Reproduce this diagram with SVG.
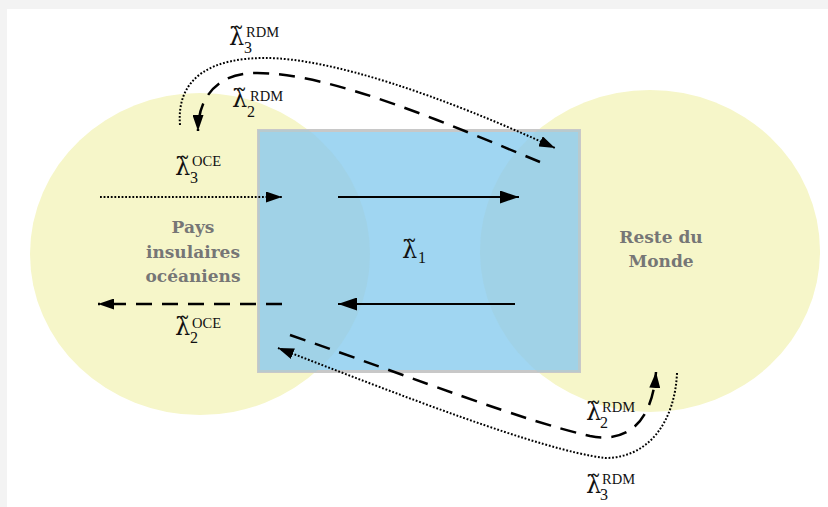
<svg xmlns="http://www.w3.org/2000/svg" width="828" height="507" viewBox="0 0 828 507">
  <style>
    .region{fill:#f6f6c9}
    .tint{fill:#a0cdd7;opacity:0.4}
    .name{font-family:"DejaVu Serif",serif;font-weight:bold;font-size:17px;fill:#767676;text-anchor:middle}
    .lam{font-family:"DejaVu Serif",serif;font-size:24px;fill:#111}
    .sub{font-family:"Liberation Serif","DejaVu Serif",serif;font-size:16px;fill:#111}
    .sup{font-family:"Liberation Serif","DejaVu Serif",serif;font-size:14.5px;fill:#111}
    .solid{fill:none;stroke:#000;stroke-width:2}
    .dot{fill:none;stroke:#000;stroke-width:2;stroke-dasharray:1.8 1.8}
    .dash{fill:none;stroke:#000;stroke-width:2.5;stroke-dasharray:16 10}
  </style>
  <defs>
    <marker id="big" viewBox="0 0 10 10" refX="10" refY="5" markerWidth="19" markerHeight="13" markerUnits="userSpaceOnUse" orient="auto" preserveAspectRatio="none">
      <path d="M0,0 L10,5 L0,10 z" fill="#000"/>
    </marker>
    <marker id="small" viewBox="0 0 10 10" refX="10" refY="5" markerWidth="16" markerHeight="11" markerUnits="userSpaceOnUse" orient="auto" preserveAspectRatio="none">
      <path d="M0,0 L10,5 L0,10 z" fill="#000"/>
    </marker>
    <clipPath id="boxclip"><rect x="258" y="130" width="322" height="242"/></clipPath>
  </defs>

  <rect x="0" y="0" width="828" height="507" fill="#f3f3f3"/>
  <rect x="7" y="9" width="821" height="498" fill="#ffffff"/>

  <g id="pays-insulaires">
    <ellipse class="region" cx="200" cy="254" rx="170" ry="161"/>
  </g>
  <g id="reste-du-monde">
    <ellipse class="region" cx="650" cy="251" rx="170" ry="161"/>
  </g>
  <g id="echanges">
    <rect x="258.5" y="130.5" width="321" height="241" fill="#a0d6f2" stroke="#c8c8c8" stroke-width="3"/>
    <g clip-path="url(#boxclip)">
      <ellipse class="tint" cx="200" cy="254" rx="170" ry="161"/>
      <ellipse class="tint" cx="650" cy="251" rx="170" ry="161"/>
    </g>
  </g>

  <g id="labels-names">
    <text class="name" x="193" y="233">Pays</text>
    <text class="name" x="193" y="258">insulaires</text>
    <text class="name" x="193" y="282">océaniens</text>
    <text class="name" x="661" y="243">Reste du</text>
    <text class="name" x="661" y="267">Monde</text>
  </g>

  <g id="connectors">
    <path class="dot" d="M100,197 L282,197" marker-end="url(#small)"/>
    <path class="solid" d="M338,197 L519,197" marker-end="url(#big)"/>
    <path class="solid" d="M515,304 L338,304" marker-end="url(#big)"/>
    <path class="dash" d="M282,304 L98,304" marker-end="url(#small)"/>
    <path class="dot" d="M180,125 C176,75 215,58 265,58 C330,58 440,95 555,148" marker-end="url(#small)"/>
    <path class="dash" d="M540,162 C450,125 330,72 255,73 C220,73 198,95 198,131" marker-end="url(#small)"/>
    <path class="dash" d="M290,335 C420,380 520,420 590,436 C625,443 652,425 656,372" marker-end="url(#small)"/>
    <path class="dot" d="M677,373 C675,420 650,458 605,458 C540,450 400,395 278,348" marker-end="url(#small)"/>
  </g>

  <g id="math-labels">
    <text x="229" y="45"><tspan class="lam">λ̃</tspan><tspan class="sub" x="244" y="53">3</tspan><tspan class="sup" x="246" y="37">RDM</tspan></text>
    <text x="232" y="107"><tspan class="lam">λ̃</tspan><tspan class="sub" x="247" y="117">2</tspan><tspan class="sup" x="250" y="101">RDM</tspan></text>
    <text x="175" y="175"><tspan class="lam">λ̃</tspan><tspan class="sub" x="190" y="183">3</tspan><tspan class="sup" x="192" y="166">OCE</tspan></text>
    <text x="175" y="335"><tspan class="lam">λ̃</tspan><tspan class="sub" x="190" y="343">2</tspan><tspan class="sup" x="192" y="328">OCE</tspan></text>
    <text x="402" y="258"><tspan class="lam">λ̃</tspan><tspan class="sub" x="418" y="263">1</tspan></text>
    <text x="586" y="420"><tspan class="lam">λ̃</tspan><tspan class="sub" x="600" y="428">2</tspan><tspan class="sup" x="602" y="412">RDM</tspan></text>
    <text x="586" y="493"><tspan class="lam">λ̃</tspan><tspan class="sub" x="600" y="500">3</tspan><tspan class="sup" x="602" y="484">RDM</tspan></text>
  </g>
</svg>
